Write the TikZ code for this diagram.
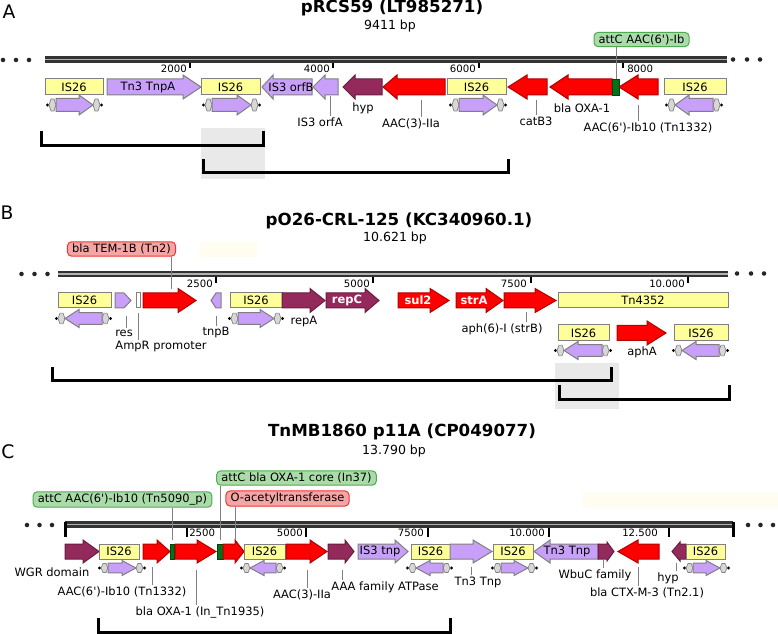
\documentclass[tikz,border=0pt]{standalone}
\usepackage{fontspec}
\setmainfont{DejaVu Sans}
\definecolor{isyel}{RGB}{255,255,153}
\definecolor{lav}{RGB}{200,160,250}
\definecolor{mag}{RGB}{148,42,92}
\definecolor{attg}{RGB}{0,115,25}
\definecolor{bordg}{RGB}{128,128,128}
\definecolor{shadeg}{RGB}{233,233,233}
\definecolor{calgf}{RGB}{170,220,170}
\definecolor{calgb}{RGB}{80,170,80}
\definecolor{calrf}{RGB}{246,165,165}
\definecolor{calrb}{RGB}{240,50,50}
\definecolor{endg}{RGB}{215,215,215}
\definecolor{faint}{RGB}{255,253,240}
\newcommand{\apos}{\textquotesingle}
\newcommand{\gene}[7]{\filldraw[#1] (#2,#5-#6) -- (#3,#5-#6) -- (#3,#5-#7) -- (#4,#5) -- (#3,#5+#7) -- (#3,#5+#6) -- (#2,#5+#6) -- cycle;}
\newcommand{\isbx}[5]{\filldraw[isbox] (#1,#3) rectangle (#2,#4);
  \node[lbl] at ({(#1+#2)/2},{(#3+#4)/2}) {#5};}
\newcommand{\isel}[5]{%
  \fill (#1+1.5,#3) circle (1.2pt) (#2-1.5,#3) circle (1.2pt);
  \filldraw[endsh] (#1+3,#3) -- (#1+5,#3-6*#5) -- (#1+8,#3-6*#5) -- (#1+10,#3) -- (#1+8,#3+6*#5) -- (#1+5,#3+6*#5) -- cycle;
  \filldraw[endsh] (#2-10,#3) -- (#2-8,#3-6*#5) -- (#2-5,#3-6*#5) -- (#2-3,#3) -- (#2-5,#3+6*#5) -- (#2-8,#3+6*#5) -- cycle;
  \ifnum#4>0 \gene{lavg}{#1+10}{#2-24}{#2-10}{#3}{6.5*#5}{10*#5}%
  \else \gene{lavg}{#2-10}{#1+24}{#1+10}{#3}{6.5*#5}{10*#5}\fi}
\tikzset{
  isbox/.style={fill=isyel, draw=bordg, line width=0.75pt},
  lavg/.style={fill=lav, draw=bordg, line width=0.75pt},
  redg/.style={fill=red, draw=red!70!black, line width=0.75pt},
  magg/.style={fill=mag, draw=mag!70!black, line width=0.75pt},
  attbar/.style={fill=attg, draw=attg!60!black, line width=0.6pt},
  endsh/.style={fill=endg, draw=bordg, line width=0.5pt},
  lbl/.style={font=\fontsize{8.6}{10}\selectfont, inner sep=1pt},
  wlbl/.style={font=\fontsize{8.6}{10}\selectfont\bfseries, text=white, inner sep=0pt},
  ticklbl/.style={font=\fontsize{7.6}{9}\selectfont, inner sep=0pt},
  ttl/.style={font=\fontsize{12.5}{14}\selectfont\bfseries},
  sub/.style={font=\fontsize{9.4}{11}\selectfont},
  letter/.style={font=\fontsize{14}{16}\selectfont},
  tickm/.style={line width=1.5pt},
  bb/.style={line width=5.2pt, draw=black!80},
  bbin/.style={line width=1pt, draw=black!30},
  lead/.style={draw=black!50, line width=0.6pt},
  brk/.style={line width=2.25pt, line join=miter},
  callg/.style={lbl, draw=calgb, fill=calgf, rounded corners=3pt, inner xsep=3.5pt, inner ysep=1.5pt, line width=0.75pt},
  callr/.style={callg, draw=calrb, fill=calrf}
}
\begin{document}
\begin{tikzpicture}[x=0.75pt,y=-0.75pt]
\useasboundingbox (0,0) rectangle (778,634);

% A
\fill[shadeg] (201,128) rectangle (265,179);
\draw[brk] (41,131) -- (41,146) -- (263,146) -- (263,131);
\draw[brk] (203,159) -- (203,173) -- (508,173) -- (508,159);
\node[letter] (pA) at (9,12) {A};
\node[ttl] (tA) at (392,8) {pRCS59 (LT985271)};
\node[sub] (sA) at (390,26) {9411 bp};
\foreach \x in {3,16,29} \fill[black!85] (\x,60) circle (1.7pt);
\foreach \x in {733,747,760} \fill[black!85] (\x,59.5) circle (1.7pt);
\draw[bb] (45,59.5) -- (727,59.5);
\draw[bbin] (45,59.5) -- (727,59.5);
\foreach \x in {190,333,479,623} \draw[tickm] (\x,63) -- (\x,68);
\node[ticklbl, anchor=east] at (187,69) {2000};
\node[ticklbl, anchor=east] at (330,69) {4000};
\node[ticklbl, anchor=east] at (476,69) {6000};
\node[ticklbl, anchor=west] at (627,69) {8000};
\isbx{45}{103}{79}{95}{IS26}
\gene{lavg}{107}{183}{201}{87}{8}{12}
\node[lbl] at (148,87) {Tn3 TnpA};
\isbx{201}{260}{79}{95}{IS26}
\gene{lavg}{312}{273}{262}{87}{8}{12}
\node[lbl] at (291,87) {IS3 orfB};
\gene{lavg}{338}{325}{313}{87}{8}{12}
\gene{magg}{382}{355}{343}{87}{8}{12}
\gene{redg}{445}{397}{383}{87}{8}{12}
\isbx{447}{506}{79}{95}{IS26}
\gene{redg}{547}{527}{508}{87}{8}{12}
\gene{redg}{612}{568}{550}{87}{8}{12}
\filldraw[attbar] (612,79) rectangle (619,95);
\gene{redg}{658}{638}{619}{87}{8}{12}
\isbx{664}{726}{79}{95}{IS26}
\isel{46}{103}{105}{1}{1}
\isel{202}{261}{105}{1}{1}
\isel{449}{507}{105}{1}{1}
\isel{665}{723}{105}{-1}{1}
\node[lbl] (hypA) at (363,108) {hyp};
\node[lbl] (orfA) at (320,122) {IS3 orfA};
\draw[lead] (330,96) -- (orfA.north -| 330,0);
\node[lbl] (aacA) at (411,124) {AAC(3)-IIa};
\draw[lead] (421,100) -- (aacA.north -| 421,0);
\node[lbl] (catA) at (536,121) {catB3};
\draw[lead] (536,100) -- (catA.north -| 536,0);
\node[lbl] (oxaA) at (582,108) {bla OXA-1};
\node[lbl] (ibA) at (648,128) {AAC(6\apos)-Ib10 (Tn1332)};
\draw[lead] (638,105) -- (ibA.north -| 638,0);
\node[callg] (cA) at (641.5,39.5) {attC AAC(6\apos)-Ib};
\draw[lead] (cA.south -| 616,0) -- (616,79);

% B
\fill[shadeg] (555,363) rectangle (619,409);
\draw[brk] (52,367) -- (52,381) -- (611,381) -- (611,367);
\draw[brk] (559,385) -- (559,400) -- (729,400) -- (729,385);
\fill[faint] (200,242) rectangle (257,257);
\node[letter] (pB) at (7,213) {B};
\node[ttl] (tB) at (399,221) {pO26-CRL-125 (KC340960.1)};
\node[sub] (sB) at (395,238) {10.621 bp};
\foreach \x in {21.5,34.5,47.5} \fill[black!85] (\x,274) circle (1.7pt);
\foreach \x in {737,751,764} \fill[black!85] (\x,273.5) circle (1.7pt);
\draw[bb] (58,274) -- (728,274);
\draw[bbin] (58,274) -- (728,274);
\foreach \x in {216,373,531,688} \draw[tickm] (\x,277.5) -- (\x,283);
\node[ticklbl, anchor=east] at (213,284) {2500};
\node[ticklbl, anchor=east] at (370,284) {5000};
\node[ticklbl, anchor=east] at (527,284) {7500};
\node[ticklbl, anchor=east] at (685,284) {10.000};
\isbx{58}{111}{293}{308}{IS26}
\gene{lavg}{115}{124}{131}{300.5}{7.5}{7.5}
\filldraw[fill=white, draw=bordg, line width=0.75pt] (136,293) rectangle (140,308);
\gene{redg}{143}{178}{196}{300.5}{7.5}{12}
\gene{lavg}{221}{216}{211}{300.5}{7.5}{7.5}
\isbx{230}{282}{293}{308}{IS26}
\gene{magg}{282}{310}{325}{300.5}{7.5}{12}
\gene{magg}{326}{365}{379}{300.5}{7.5}{12}
\node[wlbl] at (347,300.5) {repC};
\gene{redg}{398}{430}{449}{300.5}{7.5}{12}
\node[wlbl] at (418,300.5) {sul2};
\gene{redg}{456}{486}{503}{300.5}{7.5}{12}
\node[wlbl] at (474,300.5) {strA};
\gene{redg}{504}{535}{556}{300.5}{7.5}{12}
\isbx{558}{728}{293}{308}{Tn4352}
\isbx{558}{609}{325}{341}{IS26}
\gene{redg}{617}{647}{666}{333}{7.5}{12}
\isbx{674}{728}{325}{341}{IS26}
\isel{55}{112}{318.5}{-1}{0.9}
\isel{228}{284}{318.5}{1}{0.9}
\isel{554}{612}{350.5}{-1}{0.9}
\isel{672}{729}{350.5}{-1}{0.9}
\node[lbl] (resB) at (124,333) {res};
\draw[lead] (126,316) -- (resB.north -| 126,0);
\node[lbl] (ampB) at (161,347) {AmpR promoter};
\draw[lead] (138,313) -- (ampB.north -| 138,0);
\node[lbl] (tnpB) at (216,333) {tnpB};
\draw[lead] (216,316) -- (tnpB.north -| 216,0);
\node[lbl] (repB) at (304,322) {repA};
\node[lbl] (strB) at (502,329) {aph(6)-I (strB)};
\draw[lead] (526,312) -- (strB.north -| 526,0);
\node[lbl] (aphB) at (642,352) {aphA};
\node[callr] (cB) at (121.5,249) {bla TEM-1B (Tn2)};
\draw[lead] (cB.south -| 171,0) -- (171,289);

% C
\draw[brk] (98,618) -- (98,632) -- (450,632) -- (450,618);
\fill[faint] (583,493) rectangle (778,508);
\node[letter] (pC) at (8,452) {C};
\node[ttl] (tC) at (402,432) {TnMB1860 p11A (CP049077)};
\node[sub] (sC) at (394,451) {13.790 bp};
\foreach \x in {27,39.5,52} \fill[black!85] (\x,525) circle (1.7pt);
\foreach \x in {748,760.5,773} \fill[black!85] (\x,525) circle (1.7pt);
\draw[bb] (65,524.5) -- (733,524.5);
\draw[bbin] (65,524.5) -- (733,524.5);
\draw[brk] (65,521.5) -- (65,537) (733,521.5) -- (733,537);
\foreach \x in {187,306,428,549,669} \draw[tickm] (\x,527.5) -- (\x,537);
\node[ticklbl, anchor=west] at (189,533) {2500};
\node[ticklbl, anchor=east] at (303,533) {5000};
\node[ticklbl, anchor=east] at (424,533) {7500};
\node[ticklbl, anchor=east] at (545,533) {10.000};
\node[ticklbl, anchor=east] at (658,533) {12.500};
\gene{magg}{65}{83}{99}{551.5}{7.5}{11.5}
\isbx{99}{139}{544}{559}{IS26}
\gene{redg}{143}{157}{170}{551.5}{7.5}{11.5}
\filldraw[attbar] (170,544) rectangle (174,559);
\gene{redg}{175}{197}{216}{551.5}{7.5}{11.5}
\filldraw[attbar] (217,544) rectangle (223,559);
\gene{redg}{223}{235}{244}{551.5}{7.5}{11.5}
\isbx{244}{285}{544}{559}{IS26}
\gene{redg}{286}{310}{327}{551.5}{7.5}{11.5}
\gene{magg}{328}{345}{354}{551.5}{7.5}{11.5}
\gene{lavg}{358}{395}{408}{551.5}{7.5}{11.5}
\node[lbl] at (380,551.5) {IS3 tnp};
\isbx{411}{450}{544}{559}{IS26}
\gene{lavg}{450}{473}{492}{551.5}{7.5}{11.5}
\isbx{493}{533}{544}{559}{IS26}
\gene{lavg}{598}{550}{534}{551.5}{7.5}{11.5}
\node[lbl] at (567,551.5) {Tn3 Tnp};
\gene{magg}{598}{607}{614}{551.5}{7.5}{9.5}
\gene{redg}{659}{638}{618}{551.5}{7.5}{11.5}
\gene{magg}{686}{680}{672}{551.5}{7.5}{9.5}
\isbx{686}{725}{544}{559}{IS26}
\isel{98}{146}{568}{1}{0.75}
\isel{240}{286}{568}{-1}{0.75}
\isel{406}{453}{568}{-1}{0.75}
\isel{491}{538}{568}{1}{0.75}
\isel{683}{730}{568}{1}{0.75}
\node[lbl] (wgrC) at (52,572) {WGR domain};
\node[lbl] (ibC) at (122,592) {AAC(6\apos)-Ib10 (Tn1332)};
\draw[lead] (152,567) -- (ibC.north -| 152,0);
\node[lbl] (oxaC) at (200,612) {bla OXA-1 (In\_Tn1935)};
\draw[lead] (196,570) -- (oxaC.north -| 196,0);
\node[lbl] (aacC) at (302,595) {AAC(3)-IIa};
\draw[lead] (307,570) -- (aacC.north -| 307,0);
\node[lbl] (aaaC) at (385,587) {AAA family ATPase};
\draw[lead] (342,570) -- (aaaC.north -| 342,0);
\node[lbl] (tnC) at (478,582) {Tn3 Tnp};
\draw[lead] (471,567) -- (tnC.north -| 471,0);
\node[lbl] (wbuC) at (595,575) {WbuC family};
\draw[lead] (603,560) -- (wbuC.north -| 603,0);
\node[lbl] (ctxC) at (647,593) {bla CTX-M-3 (Tn2.1)};
\draw[lead] (638,567) -- (ctxC.north -| 638,0);
\node[lbl] (hypC) at (668,578) {hyp};
\draw[lead] (676,563) -- (hypC.north -| 676,0);
\node[callg] (cC1) at (122.5,499.5) {attC AAC(6\apos)-Ib10 (Tn5090\_p)};
\draw[lead] (cC1.south -| 172,0) -- (172,540);
\node[callg] (cC2) at (296.5,478) {attC bla OXA-1 core (In37)};
\draw[lead] (cC2.south -| 220,0) -- (220,540);
\node[callr] (cC3) at (287.5,498.5) {O-acetyltransferase};
\draw[lead] (cC3.south -| 235,0) -- (235,540);
\end{tikzpicture}
\end{document}
